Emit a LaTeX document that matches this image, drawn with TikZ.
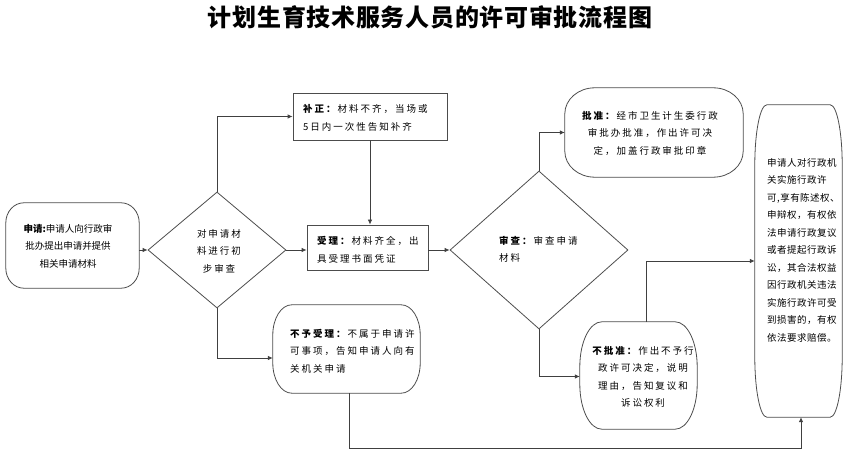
\documentclass[tikz,border=0pt]{standalone}
\usepackage{fontspec}
\setmainfont{Noto Sans CJK SC}
\newfontfamily\fA{Noto Sans CJK SC}[LetterSpace=21]
\newfontfamily\fB{Noto Sans CJK SC}[LetterSpace=0]
\newfontfamily\fC{Noto Sans CJK SC}[LetterSpace=5]
\newfontfamily\fT{Noto Sans CJK SC}[LetterSpace=3]
\usetikzlibrary{shapes.geometric,arrows.meta,calc}
\newcommand\rbox[3]{%
  \draw[shp] ([xshift=#2pt]#1.north west) -- ([xshift=-#2pt]#1.north east)
    arc[start angle=90,end angle=0,x radius=#2pt,y radius=#3pt]
    -- ([yshift=#3pt]#1.south east)
    arc[start angle=0,end angle=-90,x radius=#2pt,y radius=#3pt]
    -- ([xshift=#2pt]#1.south west)
    arc[start angle=270,end angle=180,x radius=#2pt,y radius=#3pt]
    -- ([yshift=-#3pt]#1.north west)
    arc[start angle=180,end angle=90,x radius=#2pt,y radius=#3pt] -- cycle;}
\begin{document}
\begin{tikzpicture}[x=1pt,y=-1pt,
  line/.style={draw=black!75, line width=0.8pt},
  arr/.style={line, -{Latex[length=5pt,width=4.5pt]}},
  shp/.style={draw=black!70, line width=0.8pt},
  box/.style={rectangle, inner sep=0pt},
  txt/.style={inner sep=0pt, font=\fA\fontsize{9.5}{17.5}\selectfont},
  txtn/.style={inner sep=0pt, font=\fB\fontsize{9.5}{17.5}\selectfont},
  txtt/.style={inner sep=0pt, font=\fC\fontsize{9.5}{17.5}\selectfont},
  ]
\useasboundingbox (0,0) rectangle (860,454);

% title
\node[inner sep=0pt, font=\fT\fontsize{24}{28}\selectfont\bfseries] (title) at (430,17) {计划生育技术服务人员的许可审批流程图};

% shapes
\node[box, minimum width=133pt, minimum height=85pt] (n1) at (72.5,245.5) {};
\rbox{n1}{18}{20}
\node[shp, diamond, inner sep=0pt, minimum width=138pt, minimum height=116pt] (d1) at (217,250) {};
\node[shp, box, minimum width=154pt, minimum height=47pt] (b1) at (370,116.5) {};
\node[shp, box, minimum width=121pt, minimum height=45pt] (s1) at (367.5,247.5) {};
\node[box, minimum width=147pt, minimum height=88pt] (r1) at (346.5,349) {};
\rbox{r1}{19}{30}
\node[shp, diamond, inner sep=0pt, minimum width=178pt, minimum height=158pt] (d2) at (539,250) {};
\node[box, minimum width=178pt, minimum height=89pt] (p1) at (654,132.5) {};
\rbox{p1}{30}{26}
\node[box, minimum width=117pt, minimum height=107pt] (q1) at (638.5,375.5) {};
\rbox{q1}{22}{45}
\node[box, minimum width=87pt, minimum height=312pt] (t1) at (798.5,261) {};
\rbox{t1}{12}{60}

% texts
\node[txtn, align=center] (n1t) at (68,246) {\textbf{申请:}申请人向行政审\\批办提出申请并提供\\相关申请材料};
\node[txt, align=center] (d1t) at (219,251) {对申请材\\料进行初\\步审查};
\node[txt, align=left, anchor=west] (b1t) at (303,118) {\textbf{补正：}材料不齐，当场或\\5日内一次性告知补齐};
\node[txt, align=left, anchor=west] (s1t) at (317,250) {\textbf{受理：}材料齐全，出\\具受理书面凭证};
\node[txt, align=left, anchor=west] (r1t) at (290,351) {\textbf{不予受理：}不属于申请许\\可事项，告知申请人向有\\关机关申请};
\node[txt, align=left, anchor=west] (d2t) at (499,249) {\textbf{审查：}审查申请\\材料};
\node[txt, align=center] (p1t) at (650,133) {\textbf{批准：}经市卫生计生委行政\\审批办批准，作出许可决\\定，加盖行政审批印章};
\node[txt, align=center] (q1t) at (643,377) {\textbf{不批准：}作出不予行\\政许可决定，说明\\理由，告知复议和\\诉讼权利};
\node[txtt, align=left, anchor=west] (t1t) at (767,250) {申请人对行政机\\关实施行政许\\可,享有陈述权、\\申辩权，有权依\\法申请行政复议\\或者提起行政诉\\讼，其合法权益\\因行政机关违法\\实施行政许可受\\到损害的，有权\\依法要求赔偿。};

% connectors
\coordinate (bot) at (0,448);
\draw[arr] (n1.east |- d1.west) -- (d1.west);
\draw[arr] (d1.north) |- (b1.west);
\draw[arr] (d1.east) -- (d1.east -| s1.west);
\draw[arr] (d1.south) |- ([yshift=-9pt]r1.west);
\draw[arr] (b1.south) -- (b1.south |- s1.north);
\draw[arr] (s1.east |- d2.west) -- (d2.west);
\draw[arr] (d2.north) |- (p1.west);
\draw[arr] (d2.south) |- ([yshift=-1pt]q1.west);
\draw[arr] ([xshift=8pt]q1.north) |- (t1.west);
\draw[arr] ([xshift=2.5pt]r1.south) -- ([xshift=2.5pt]r1.south |- bot) -| ([xshift=2.5pt]t1.south);
\end{tikzpicture}
\end{document}
